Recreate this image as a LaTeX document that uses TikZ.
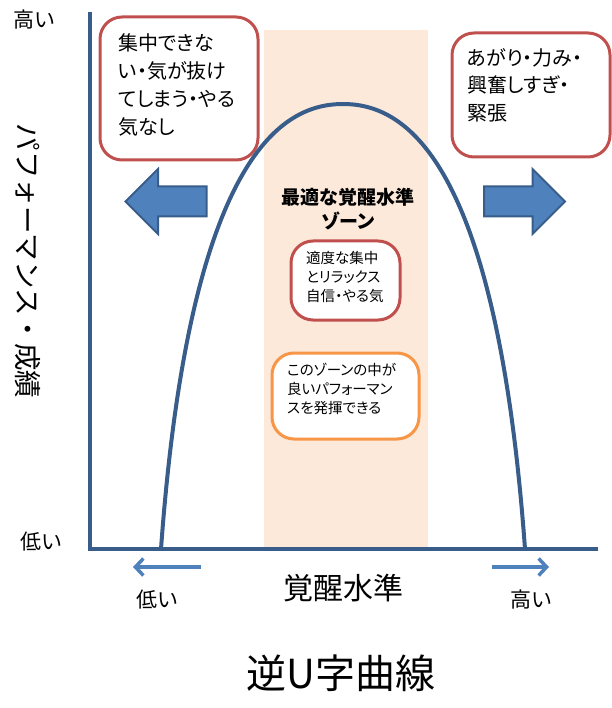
\documentclass[tikz,border=0pt]{standalone}
\usepackage{fontspec}
\setmainfont{Noto Sans CJK JP}[RawFeature=+palt]
\newfontfamily\fullwidth{Noto Sans CJK JP}
\usetikzlibrary{arrows.meta,shapes.arrows,positioning}
\definecolor{curveblue}{HTML}{385D8A}
\definecolor{arrowblue}{HTML}{4F81BD}
\definecolor{boxred}{HTML}{C0504D}
\definecolor{boxorange}{HTML}{F79646}
\definecolor{zonepeach}{HTML}{FDE9DA}
\begin{document}
\begin{tikzpicture}[x=1pt,y=-1pt,
        axis/.style={draw=curveblue, line width=4pt},
        box/.style={draw=boxred, line width=3pt, fill=white,
                        rounded corners=22pt, inner sep=0pt},
        txt/.style={anchor=north west, align=left, inner sep=0pt},
        lbl/.style={inner sep=0pt, font=\fontsize{21}{24}\selectfont},
        bigarrow/.style={single arrow, draw=curveblue, line width=2pt,
                        fill=arrowblue, inner sep=14pt, minimum height=81pt,
                        single arrow head extend=17.5pt},
        smallarrow/.style={draw=arrowblue, line width=3.5pt,
                        -{Straight Barb[length=8pt,width=17pt]}}]
    \useasboundingbox (0,0) rectangle (611,708);
    \fill[zonepeach] (264,30) rectangle (428,549);
    \coordinate (top) at (90,12);
    \coordinate (origin) at (90,549);
    \coordinate (right) at (598,549);
    \coordinate (foot1) at (161,549);
    \coordinate (peak) at (343,104);
    \coordinate (foot2) at (525,549);
    \node[box, minimum width=158pt, minimum height=143pt] (toolow) at (179,88.5) {};
    \node[txt, font=\fontsize{20}{28}\selectfont] (toolowtxt) at (118,33)
            {集中できな\\い・気が抜け\\てしまう・やる\\気なし};
    \node[box, minimum width=158pt, minimum height=124pt] (toohigh) at (531,95) {};
    \node[txt, font=\fontsize{20}{27.5}\selectfont] (toohightxt) at (467,48)
            {あがり・力み・\\興奮しすぎ・\\緊張};
    \draw[axis] (foot1) .. controls (190,150) and (285,104) .. (peak)
            .. controls (401,104) and (496,150) .. (foot2);
    \draw[axis] (top) -- (origin) -- (right);
    \node[bigarrow, shape border rotate=180] (leftarrow) at (173.5,201.5) {};
    \node[bigarrow] (rightarrow) at (517,201.5) {};
    \node[align=center, inner sep=0pt, font=\fontsize{19}{24}\bfseries] (zonetitle)
            at (348,209) {最適な覚醒水準\\ゾーン};
    \node[box, minimum width=109pt, minimum height=79pt] (optimal) at (345.5,280.5) {};
    \node[txt, font=\fontsize{14.5}{19}\selectfont] (optimaltxt) at (306,251.5)
            {適度な集中\\とリラックス\\自信・やる気};
    \node[box, draw=boxorange, minimum width=147pt, minimum height=86pt] (note) at (345.5,396) {};
    \node[txt, font=\fontsize{14.5}{19}\selectfont] (notetxt) at (287,362.5)
            {このゾーンの中が\\良いパフォーマン\\スを発揮できる};
    \node[rotate=-90, inner sep=0pt, font=\fullwidth\fontsize{27.5}{30}\selectfont] (ylabel)
            at (28,261) {パフォーマンス・成績};
    \node[lbl] (yhigh) at (34,20) {高い};
    \node[lbl] (ylow) at (41,542) {低い};
    \coordinate (lowtail) at (201,567);
    \coordinate (lowtip) at (133,567);
    \coordinate (hightail) at (492,567);
    \coordinate (hightip) at (549,567);
    \draw[smallarrow] (lowtail) -- (lowtip);
    \draw[smallarrow] (hightail) -- (hightip);
    \node[lbl] (xlow) at (157,600) {低い};
    \node[lbl] (xhigh) at (531,600) {高い};
    \node[lbl, font=\fontsize{30}{33}\selectfont] (xlabel) at (343,588) {覚醒水準};
    \node[lbl, font=\fontsize{40}{44}\selectfont] (caption) at (341,673) {逆U字曲線};
\end{tikzpicture}
\end{document}
